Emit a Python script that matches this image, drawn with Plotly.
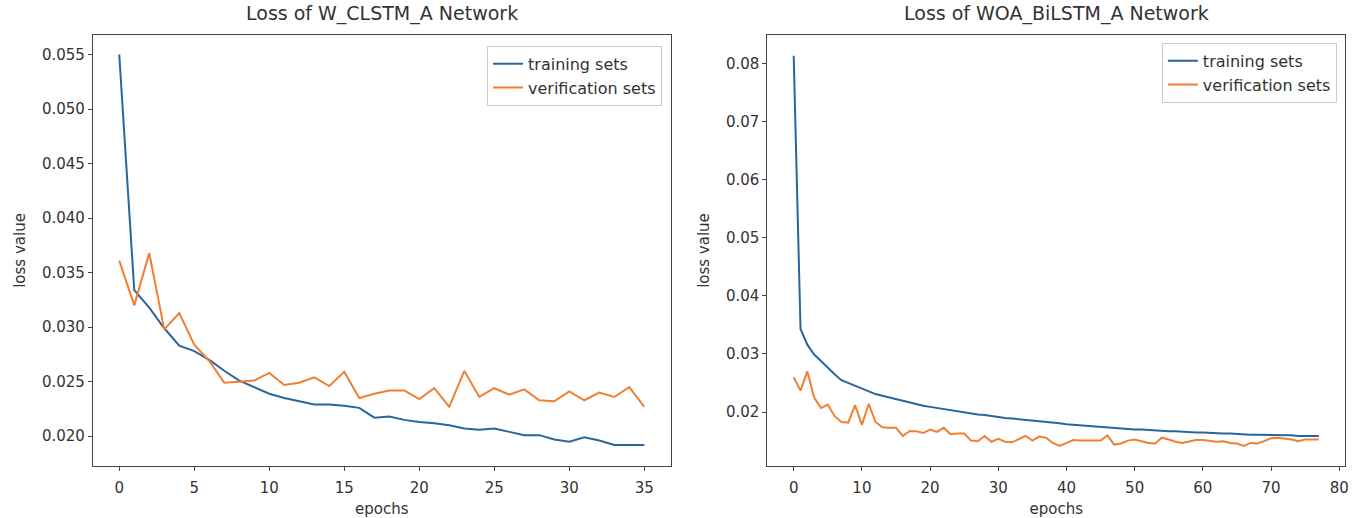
import plotly.graph_objects as go
from plotly.subplots import make_subplots

# ---- data: left panel (W_CLSTM_A) ----
epochs_a = list(range(36))
train_a = [0.0550, 0.0334, 0.0318, 0.0299, 0.0283, 0.0278, 0.0270, 0.0260, 0.0251, 0.0245,
           0.0239, 0.0235, 0.0232, 0.0229, 0.0229, 0.0228, 0.0226, 0.0217, 0.0218, 0.0215,
           0.0213, 0.0212, 0.0210, 0.0207, 0.0206, 0.0207, 0.0204, 0.0201, 0.0201, 0.0197,
           0.0195, 0.0199, 0.0196, 0.0192, 0.0192, 0.0192]
val_a = [0.0361, 0.0320, 0.0368, 0.0298, 0.0313, 0.0284, 0.0269, 0.0249, 0.0250, 0.0251,
         0.0258, 0.0247, 0.0249, 0.0254, 0.0246, 0.0259, 0.0235, 0.0239, 0.0242, 0.0242,
         0.0234, 0.0244, 0.0227, 0.0260, 0.0236, 0.0244, 0.0238, 0.0243, 0.0233, 0.0232,
         0.0241, 0.0233, 0.0240, 0.0236, 0.0245, 0.0227]

# ---- data: right panel (WOA_BiLSTM_A) ----
epochs_b = list(range(78))
train_b = [0.0813, 0.0343, 0.0316, 0.0299, 0.0288, 0.0276, 0.0265, 0.0255, 0.0250, 0.0245,
           0.0240, 0.0235, 0.0231, 0.0228, 0.0225, 0.0222, 0.0219, 0.0216, 0.0213, 0.0211,
           0.0209, 0.0207, 0.0205, 0.0203, 0.0201, 0.0200, 0.0198, 0.0196, 0.0195, 0.0193,
           0.0191, 0.0190, 0.0189, 0.0188, 0.0187, 0.0185, 0.0184, 0.0183, 0.0182, 0.0181,
           0.0179, 0.0178, 0.0177, 0.0177, 0.0176, 0.0175, 0.0174, 0.0173, 0.0172, 0.0171,
           0.0170, 0.0170, 0.0169, 0.0168, 0.0168, 0.0167, 0.0167, 0.0166, 0.0166, 0.0165,
           0.0165, 0.0164, 0.0164, 0.0163, 0.0163, 0.0162, 0.0162, 0.0161, 0.0161, 0.0161,
           0.0160, 0.0160, 0.0160, 0.0160, 0.0159, 0.0159, 0.0159, 0.0159]
val_b = [0.0260, 0.0237, 0.0270, 0.0225, 0.0207, 0.0213, 0.0193, 0.0183, 0.0182, 0.0212,
         0.0178, 0.0214, 0.0183, 0.0174, 0.0173, 0.0173, 0.0159, 0.0167, 0.0167, 0.0164,
         0.0170, 0.0166, 0.0173, 0.0162, 0.0163, 0.0163, 0.0151, 0.0150, 0.0159, 0.0149,
         0.0154, 0.0149, 0.0148, 0.0153, 0.0159, 0.0151, 0.0158, 0.0156, 0.0147, 0.0142,
         0.0147, 0.0152, 0.0151, 0.0151, 0.0151, 0.0151, 0.0160, 0.0144, 0.0146, 0.0151,
         0.0153, 0.0150, 0.0147, 0.0146, 0.0156, 0.0153, 0.0149, 0.0147, 0.0149, 0.0152,
         0.0152, 0.0151, 0.0149, 0.0150, 0.0147, 0.0146, 0.0142, 0.0147, 0.0146, 0.0150,
         0.0155, 0.0156, 0.0155, 0.0153, 0.0150, 0.0153, 0.0153, 0.0153]

titles = ["Loss of W_CLSTM_A Network", "Loss of WOA_BiLSTM_A Network"]
series_names = ["training sets", "verification sets"]
BLUE = "#2a669c"
ORANGE = "#f07f32"
FONT = "DejaVu Sans"
AX = "#444444"
TXT = "#333333"

fig = make_subplots(rows=1, cols=2, horizontal_spacing=0.0774, subplot_titles=titles)

fig.add_trace(go.Scatter(x=epochs_a, y=train_a, mode="lines", name=series_names[0],
                         line=dict(color=BLUE, width=2), legend="legend"), row=1, col=1)
fig.add_trace(go.Scatter(x=epochs_a, y=val_a, mode="lines", name=series_names[1],
                         line=dict(color=ORANGE, width=2), legend="legend"), row=1, col=1)
fig.add_trace(go.Scatter(x=epochs_b, y=train_b, mode="lines", name=series_names[0],
                         line=dict(color=BLUE, width=2), legend="legend2"), row=1, col=2)
fig.add_trace(go.Scatter(x=epochs_b, y=val_b, mode="lines", name=series_names[1],
                         line=dict(color=ORANGE, width=2), legend="legend2"), row=1, col=2)

axis_common = dict(showline=True, linecolor=AX, linewidth=1.2, mirror=True,
                   ticks="outside", ticklen=4, tickcolor=AX, tickwidth=1,
                   showgrid=False, zeroline=False, automargin=False,
                   tickfont=dict(family=FONT, size=15, color=TXT))

fig.update_xaxes(**axis_common, ticklabelstandoff=4)
fig.update_yaxes(**axis_common)

xtitle = dict(text="epochs", font=dict(family=FONT, size=15, color=TXT), standoff=10)
ytitle = dict(text="loss value", font=dict(family=FONT, size=15, color=TXT), standoff=12)

fig.update_xaxes(range=[-1.75, 36.75], tickvals=[0, 5, 10, 15, 20, 25, 30, 35], row=1, col=1, title=xtitle)
fig.update_xaxes(range=[-3.85, 80.85], tickvals=[0, 10, 20, 30, 40, 50, 60, 70, 80], row=1, col=2, title=xtitle)
fig.update_yaxes(range=[0.01727, 0.05679], tickvals=[0.020, 0.025, 0.030, 0.035, 0.040, 0.045, 0.050, 0.055],
                 tickformat=".3f", row=1, col=1, title=ytitle)
fig.update_yaxes(range=[0.01073, 0.08487], tickvals=[0.02, 0.03, 0.04, 0.05, 0.06, 0.07, 0.08],
                 tickformat=".2f", row=1, col=2, title=ytitle)

for ann in fig.layout.annotations:
    ann.font = dict(family=FONT, size=19, color=TXT)
    ann.yshift = 8

legend_style = dict(bgcolor="white", bordercolor="#cccccc", borderwidth=1,
                    font=dict(family=FONT, size=16, color=TXT),
                    xanchor="right", yanchor="top", tracegroupgap=0)

fig.update_layout(
    width=1363, height=518,
    paper_bgcolor="white", plot_bgcolor="white",
    margin=dict(l=93, r=18, t=35, b=52, autoexpand=False),
    showlegend=True,
    legend=dict(x=0.4545, y=0.975, **legend_style),
    legend2=dict(x=0.9935, y=0.982, **legend_style),
    font=dict(family=FONT, color=TXT),
)

fig.write_html("out.html")
